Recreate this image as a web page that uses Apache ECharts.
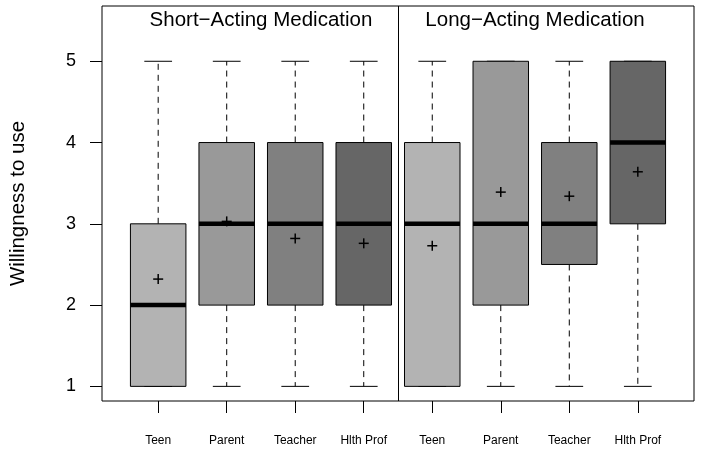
<!DOCTYPE html>
<html>
<head>
<meta charset="utf-8">
<script src="https://cdn.jsdelivr.net/npm/echarts@6/dist/echarts.min.js"></script>
<style>html,body{margin:0;padding:0;background:#fff}#c{width:701px;height:452px}</style>
</head>
<body>
<div id="c"></div>
<script>
// ---- data ----
const categories = ['Teen', 'Parent', 'Teacher', 'Hlth Prof', 'Teen', 'Parent', 'Teacher', 'Hlth Prof'];
const positions = [1, 2, 3, 4, 5, 6, 7, 8];
const mins    = [1, 1, 1, 1, 1, 1, 1, 1];
const q1s     = [1, 2, 2, 2, 1, 2, 2.5, 3];
const medians = [2, 3, 3, 3, 3, 3, 3, 4];
const q3s     = [3, 4, 4, 4, 4, 5, 4, 5];
const maxs    = [5, 5, 5, 5, 5, 5, 5, 5];
const means   = [2.32, 3.03, 2.82, 2.76, 2.73, 3.39, 3.34, 3.64];
const panelTitles = ['Short\u2212Acting Medication', 'Long\u2212Acting Medication'];
const panelGroups = [[1, 2, 3, 4], [5, 6, 7, 8]];
const yTicks = [1, 2, 3, 4, 5];
const yName = 'Willingness to use';

// ---- styles ----
const fills = ['#b3b3b3', '#999999', '#808080', '#666666', '#b3b3b3', '#999999', '#808080', '#666666'];
const FONT = "'Liberation Sans', Arial, sans-serif";

const boxData = positions.map((p, i) => [p, mins[i], q1s[i], medians[i], q3s[i], maxs[i], means[i], i]);

function renderBox(params, api) {
  const x = api.value(0);
  const idx = api.value(7);
  const halfW = api.size([0.81, 0])[0] / 2;
  const capW = halfW / 2;
  const pMin = api.coord([x, api.value(1)]);
  const pQ1 = api.coord([x, api.value(2)]);
  const pMed = api.coord([x, api.value(3)]);
  const pQ3 = api.coord([x, api.value(4)]);
  const pMax = api.coord([x, api.value(5)]);
  const pMean = api.coord([x, api.value(6)]);
  const cx = pMed[0];
  const dash = { stroke: '#000', lineWidth: 1, lineDash: [6, 5] };
  const solid = { stroke: '#000', lineWidth: 1 };
  const children = [];
  children.push({ type: 'line', shape: { x1: cx, y1: pQ3[1], x2: cx, y2: pMax[1] }, style: dash });
  children.push({ type: 'line', shape: { x1: cx, y1: pQ1[1], x2: cx, y2: pMin[1] }, style: dash });
  children.push({ type: 'line', shape: { x1: cx - capW, y1: pMax[1], x2: cx + capW, y2: pMax[1] }, style: solid });
  children.push({ type: 'line', shape: { x1: cx - capW, y1: pMin[1], x2: cx + capW, y2: pMin[1] }, style: solid });
  children.push({ type: 'rect', shape: { x: cx - halfW, y: pQ3[1], width: 2 * halfW, height: pQ1[1] - pQ3[1] },
    style: { fill: fills[idx], stroke: '#000', lineWidth: 1 } });
  children.push({ type: 'line', shape: { x1: cx - halfW, y1: pMed[1], x2: cx + halfW, y2: pMed[1] },
    style: { stroke: '#000', lineWidth: 4.5 } });
  const m = 5;
  children.push({ type: 'line', shape: { x1: pMean[0] - m, y1: pMean[1], x2: pMean[0] + m, y2: pMean[1] }, style: { stroke: '#000', lineWidth: 1.5 } });
  children.push({ type: 'line', shape: { x1: pMean[0], y1: pMean[1] - m, x2: pMean[0], y2: pMean[1] + m }, style: { stroke: '#000', lineWidth: 1.5 } });
  return { type: 'group', children };
}

const chart = echarts.init(document.getElementById('c'), null, { renderer: 'canvas' });
const option = {
  animation: false,
  backgroundColor: '#fff',
  grid: { left: 101, right: 7, top: 6, bottom: 51, show: true, borderColor: '#000', borderWidth: 1, backgroundColor: 'transparent' },
  xAxis: {
    type: 'value', min: 0.18, max: 8.82,
    axisLine: { show: false },
    splitLine: { show: false },
    axisTick: { show: true, customValues: positions, length: 12, lineStyle: { color: '#000', width: 1 } },
    axisLabel: { show: true, customValues: positions, margin: 34, fontSize: 12, color: '#000', fontFamily: FONT,
      formatter: v => categories[Math.round(v) - 1] || '' }
  },
  yAxis: {
    type: 'value', min: 0.82, max: 5.68,
    name: yName, nameLocation: 'middle', nameGap: 73, nameRotate: 90,
    nameTextStyle: { fontSize: 20.5, color: '#000', fontFamily: FONT },
    axisLine: { show: false },
    splitLine: { show: false },
    axisTick: { show: true, customValues: yTicks, length: 12, lineStyle: { color: '#000', width: 1 } },
    axisLabel: { show: true, customValues: yTicks, margin: 26, fontSize: 18, color: '#000', fontFamily: FONT }
  },
  series: [{
    type: 'custom',
    renderItem: renderBox,
    data: boxData,
    encode: { x: 0, y: [1, 2, 3, 4, 5, 6] },
    clip: false,
    markLine: {
      silent: true, symbol: 'none', label: { show: false },
      lineStyle: { color: '#000', width: 1, type: 'solid' },
      data: [{ xAxis: (panelGroups[0][panelGroups[0].length - 1] + panelGroups[1][0]) / 2 }]
    }
  }]
};
chart.setOption(option);

// panel titles, centred between the middle boxes of each panel
const titleGraphics = panelTitles.map((t, i) => {
  const g = panelGroups[i];
  const center = (g[0] + g[g.length - 1]) / 2;
  const px = chart.convertToPixel({ xAxisIndex: 0 }, center);
  return { type: 'text', x: px, y: 20, style: { text: t, fontSize: 20.5, fontFamily: FONT, fill: '#000', align: 'center', verticalAlign: 'middle' } };
});
chart.setOption({ graphic: titleGraphics });
</script>
</body>
</html>
